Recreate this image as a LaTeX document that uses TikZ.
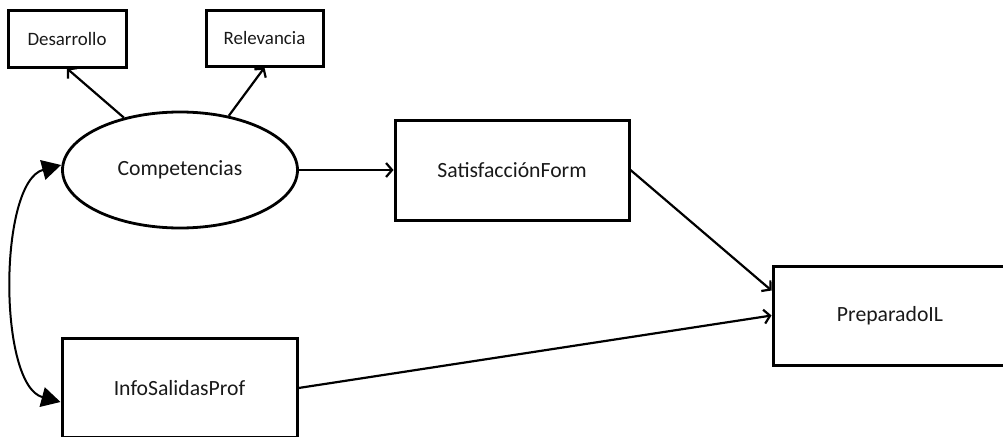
\documentclass[tikz,border=0pt]{standalone}
\usepackage{fontspec}
\setmainfont{Carlito}
\usetikzlibrary{shapes.geometric,arrows.meta}

\tikzset{
  caja/.style={draw, line width=3pt, rectangle, inner sep=0pt, text=black!90, font=\fontsize{21.7}{26}\selectfont},
  cajita/.style={caja, font=\fontsize{18.9}{23}\selectfont},
  latente/.style={draw, line width=2.8pt, ellipse, inner sep=0pt, text=black!90, font=\fontsize{21.7}{26}\selectfont},
  flecha/.style={line width=2.2pt, -{Straight Barb[length=6pt,width=14pt]}},
  doble/.style={line width=2pt, {Triangle[length=19pt,width=20pt]}-{Triangle[length=19pt,width=20pt]}}
}

\begin{document}
\begin{tikzpicture}[x=1pt,y=-1pt]
	\useasboundingbox (0,0) rectangle (1003,436);
   \node[cajita, minimum width=118pt, minimum height=56pt] (des) at (67,39) {Desarrollo};
   \node[cajita, minimum width=117pt, minimum height=55pt] (rel) at (264.5,38.5) {Relevancia};
   \node[latente, minimum width=235pt, minimum height=116pt] (comp) at (180,170) {Competencias};
   \node[caja, minimum width=234pt, minimum height=100pt] (sat) at (512,170) {SatisfacciónForm};
   \node[caja, minimum width=234pt, minimum height=99pt] (prep) at (890,315.5) {PreparadoIL};
   \node[caja, minimum width=235pt, minimum height=99pt] (info) at (179.5,388) {InfoSalidasProf};
   \draw[flecha] (comp.137) -- (des.south);
   \draw[flecha] (comp.48) -- (rel.south);
   \draw[flecha] (comp.east) -- (sat.west);
   \draw[flecha] (sat.east) -- ([yshift=25pt]prep.west);
   \draw[flecha] (info.east) -- (prep.west);
   \draw[doble] ([yshift=5pt]comp.west) to[out=195, in=165, looseness=0.7] ([yshift=-14pt]info.west);
\end{tikzpicture}
\end{document}
